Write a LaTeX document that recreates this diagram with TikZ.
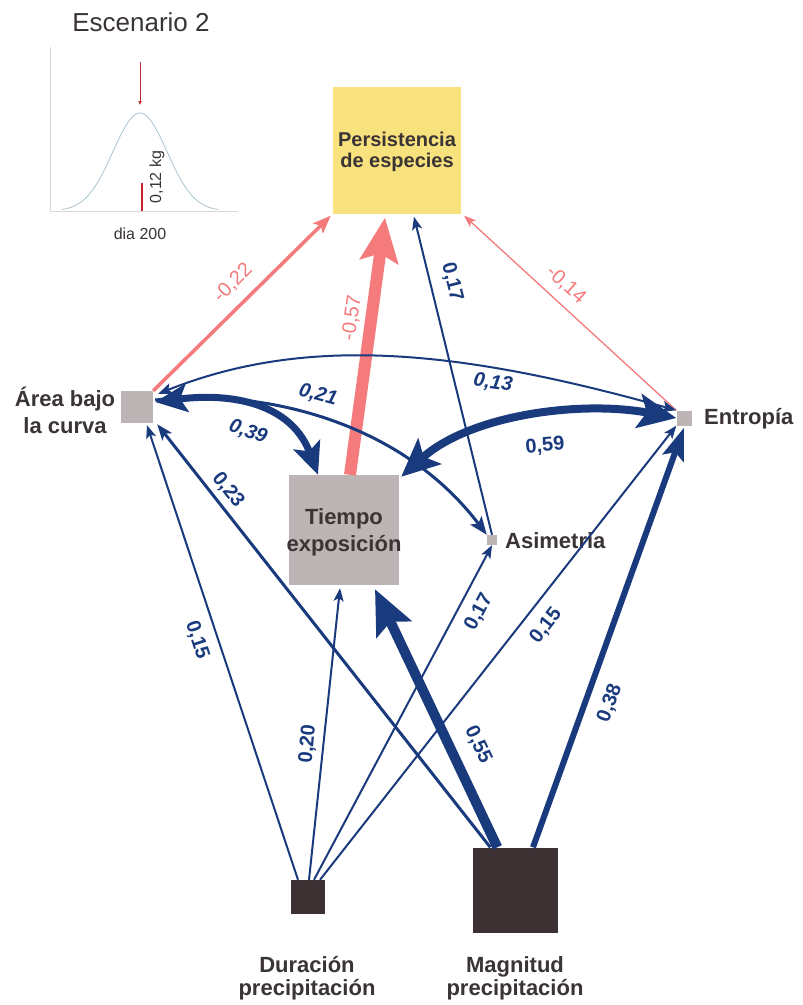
\documentclass[tikz,border=0pt]{standalone}
\usepackage{fontspec}
\setmainfont{Liberation Sans}
\usetikzlibrary{arrows.meta,calc}
\definecolor{navy}{HTML}{1A3A7E}
\definecolor{salmon}{HTML}{F47A7C}
\definecolor{boxgray}{HTML}{BDB4B5}
\definecolor{boxdark}{HTML}{3D3134}
\definecolor{boxyellow}{HTML}{F8E27E}
\definecolor{txt}{HTML}{3A3435}
\definecolor{curveblue}{HTML}{A9C3D0}
\definecolor{darkred}{HTML}{C0282D}
\definecolor{axisgray}{HTML}{D8D8D8}
\begin{document}
\begin{tikzpicture}[x=1pt,y=-1pt,
  namefont/.style={font=\fontsize{22}{25}\selectfont\bfseries, text=txt, align=center, inner sep=0pt},
  sqbox/.style={draw=none, inner sep=0pt, minimum size=#1},
  lab/.style={font=\fontsize{20}{20}\selectfont\bfseries, text=navy, inner sep=0pt},
  labit/.style={font=\fontsize{20}{20}\selectfont\bfseries\itshape, text=navy, inner sep=0pt},
  labpink/.style={font=\fontsize{20}{20}\selectfont, text=salmon, inner sep=0pt},
  thinnavy/.style={draw=navy, line width=2pt, -{Stealth[length=13pt,width=10pt,inset=3pt]}},
  tipS/.style={Stealth[length=13pt,width=10pt,inset=3pt]},
  tipM/.style={Stealth[length=18pt,width=14pt,inset=4pt]},
]
\fill[white] (0,0) rectangle (803,1005);
\useasboundingbox (0,0) rectangle (803,1005);

% ---------- inset ----------
\node[font=\fontsize{26}{26}\selectfont, text=txt] (title) at (141,22) {Escenario 2};
\draw[axisgray, line width=0.7pt] (50,47) -- (50,211) -- (238,211);
\draw[curveblue, line width=0.8pt] plot[domain=62:218, samples=70, smooth] (\x, {211-98*exp(-((\x-140)^2)/1458)});
\draw[darkred, line width=0.7pt, -{Latex[length=4pt,width=4pt]}] (140,62) -- (140,105);
\draw[darkred, line width=2.5pt] (142,183) -- (142,211);
\node[rotate=90, font=\fontsize{16}{16}\selectfont, text=txt] (kg) at (157,177) {0,12 kg};
\node[font=\fontsize{16}{16}\selectfont, text=txt] (dia) at (140,234) {dia 200};

% ---------- nodes ----------
\node[fill=boxyellow, minimum width=128pt, minimum height=127pt, inner sep=0pt] (pers) at (397,150) {};
\node[namefont, font=\fontsize{20}{21}\selectfont\bfseries] (perst) at (397,152) {Persistencia\\de especies};
\node[sqbox=32pt, fill=boxgray] (area) at (137,407) {};
\node[sqbox=15pt, fill=boxgray] (ent) at (684,418) {};
\node[sqbox=110pt, fill=boxgray] (tiempo) at (344,530) {};
\node[sqbox=10pt, fill=boxgray] (asim) at (492,540) {};
\node[sqbox=34pt, fill=boxdark] (dur) at (308,897) {};
\node[sqbox=85pt, fill=boxdark] (mag) at (515,890) {};

\node[namefont, font=\fontsize{22}{27}\selectfont\bfseries] (tiempot) at (344,532) {Tiempo\\exposición};
\node[namefont, font=\fontsize{22}{27}\selectfont\bfseries] (areal) at (65,410) {Área bajo\\la curva};
\node[namefont, anchor=west] (entl) at (704,419) {Entropía};
\node[namefont, anchor=west] (asiml) at (505,541) {Asimetria};
\node[namefont, font=\fontsize{22}{23}\selectfont\bfseries] (durl) at (307,978) {Duración\\precipitación};
\node[namefont, font=\fontsize{22}{23}\selectfont\bfseries] (magl) at (515,978) {Magnitud\\precipitación};

% ---------- edges to Persistencia ----------
\draw[salmon, line width=3.5pt, -{Stealth[length=18pt,width=14pt,inset=4pt]}]
  (area.north east) -- ([xshift=-2pt,yshift=-2pt]pers.south west);
\draw[salmon, line width=12pt, -{Stealth[length=44pt,width=38pt,inset=8pt]}]
  ([xshift=6pt]tiempo.north) -- ([xshift=-12pt,yshift=-4pt]pers.south);
\draw[thinnavy] (asim.north) -- ([xshift=17pt,yshift=-3pt]pers.south);
\draw[salmon, line width=1.3pt, -{Stealth[length=12pt,width=9pt,inset=3pt]}]
  (ent.north west) -- ([xshift=3pt,yshift=-2pt]pers.south east);

% ---------- curved correlations ----------
\draw[navy, line width=2pt, {Stealth[length=14pt,width=11pt,inset=3pt]}-{Stealth[length=14pt,width=11pt,inset=3pt]}]
  (ent.north west) .. controls (461,350) and (308,334) .. ([xshift=5pt,yshift=-3pt]area.north east);
\draw[navy, line width=3pt, -{Stealth[length=18pt,width=14pt,inset=4pt]}]
  ([xshift=2pt,yshift=7pt]area.east) .. controls (260,388) and (400,420) .. (asim.north west);
\draw[navy, line width=7pt, {Stealth[length=32pt,width=28pt,inset=7pt]}-{Stealth[length=32pt,width=28pt,inset=7pt]}]
  ([xshift=2pt,yshift=5pt]area.east) .. controls (235,392) and (292,405) .. ([xshift=-26pt]tiempo.north);
\draw[navy, line width=8pt, {Stealth[length=38pt,width=34pt,inset=8pt]}-{Stealth[length=38pt,width=34pt,inset=8pt]}]
  (ent.west) .. controls (580,400) and (470,415) .. ([xshift=2pt,yshift=-2pt]tiempo.north east);

% ---------- from Duracion ----------
\draw[thinnavy] ([xshift=-10pt]dur.north) -- ([xshift=10pt,yshift=-2pt]area.south);
\draw[thinnavy] ([xshift=1pt]dur.north) -- ([xshift=-4pt,yshift=-3pt]tiempo.south);
\draw[thinnavy] ([xshift=6pt]dur.north) -- (asim.south);
\draw[thinnavy] ([xshift=12pt]dur.north) -- (ent.south west);

% ---------- from Magnitud ----------
\draw[navy, line width=3pt, -{Stealth[length=16pt,width=12pt,inset=4pt]}]
  ([xshift=18pt]mag.north west) -- ([xshift=4pt,yshift=-1pt]area.south east);
\draw[navy, line width=10pt, -{Stealth[length=44pt,width=38pt,inset=8pt]}]
  ([xshift=25pt]mag.north west) -- ([xshift=31pt,yshift=-4pt]tiempo.south);
\draw[navy, line width=6pt, -{Stealth[length=32pt,width=22pt,inset=6pt]}]
  ([xshift=18pt]mag.north) -- ([yshift=-2pt]ent.south);

% ---------- labels ----------
\node[labpink, rotate=45] (l1) at (233,283) {-0,22};
\node[labpink, rotate=82] (l2) at (352,318) {-0,57};
\node[lab, rotate=-76] (l3) at (452,282) {0,17};
\node[labpink, rotate=-42] (l4) at (566,285) {-0,14};
\node[labit, rotate=-8] (l5) at (493,383) {0,13};
\node[lab, rotate=5] (l6) at (545,446) {0,59};
\node[labit, rotate=-15] (l7) at (318,395) {0,21};
\node[labit, rotate=-20] (l8) at (248,432) {0,39};
\node[lab, rotate=-52] (l9) at (228,490) {0,23};
\node[lab, rotate=-72] (l10) at (197,640) {0,15};
\node[lab, rotate=85] (l11) at (308,744) {0,20};
\node[lab, rotate=62] (l12) at (479,612) {0,17};
\node[lab, rotate=52] (l13) at (546,626) {0,15};
\node[lab, rotate=-65] (l14) at (478,745) {0,55};
\node[lab, rotate=70] (l15) at (610,703) {0,38};
\end{tikzpicture}
\end{document}
